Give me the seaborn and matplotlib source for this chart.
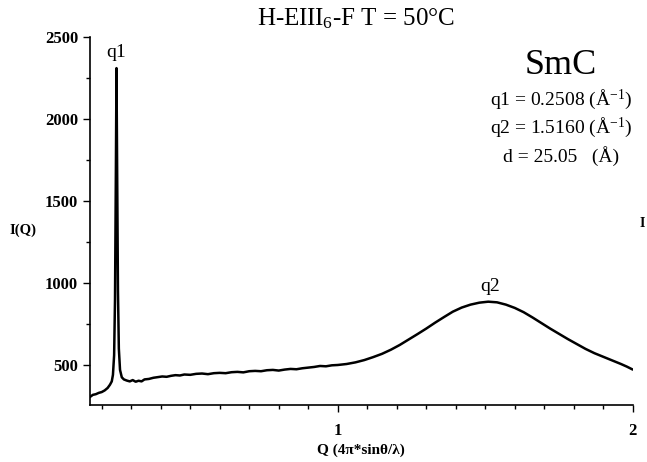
import numpy as np
import pandas as pd
import matplotlib
matplotlib.use('Agg')
import matplotlib.pyplot as plt
from matplotlib.ticker import MultipleLocator
import seaborn as sns

# scattering vector Q and intensity I(Q)
q_vals = [0.160, 0.170, 0.180, 0.190, 0.200, 0.210, 0.220, 0.228, 0.234, 0.238,
          0.242, 0.245, 0.248, 0.250, 0.252, 0.255, 0.258, 0.262, 0.268, 0.275,
          0.285, 0.295, 0.305, 0.315, 0.325, 0.335, 0.345, 0.360, 0.375, 0.390,
          0.405, 0.420, 0.435, 0.450, 0.465, 0.480, 0.500, 0.520, 0.540, 0.560,
          0.580, 0.600, 0.620, 0.640, 0.660, 0.680, 0.700, 0.720, 0.740, 0.760,
          0.780, 0.800, 0.820, 0.840, 0.860, 0.880, 0.900, 0.920, 0.940, 0.960,
          0.980, 1.000, 1.030, 1.060, 1.090, 1.120, 1.150, 1.180, 1.210, 1.240,
          1.270, 1.300, 1.330, 1.360, 1.390, 1.420, 1.450, 1.480, 1.510, 1.540,
          1.570, 1.600, 1.630, 1.660, 1.690, 1.720, 1.750, 1.780, 1.810, 1.840,
          1.870, 1.900, 1.930, 1.960, 1.980, 2.000]
i_vals = [305, 318, 322, 330, 335, 345, 360, 380, 400, 440,
          560, 900, 1700, 2310, 1750, 950, 600, 470, 425, 412,
          405, 400, 408, 398, 404, 400, 412, 415, 422, 426,
          430, 428, 434, 438, 436, 442, 440, 446, 448, 444,
          450, 452, 450, 456, 458, 455, 462, 464, 462, 468,
          470, 466, 472, 476, 474, 480, 484, 488, 494, 492,
          498, 500, 506, 516, 530, 548, 568, 593, 622, 655,
          688, 722, 758, 792, 825, 850, 868, 880, 886, 882,
          868, 848, 822, 790, 756, 722, 690, 658, 628, 598,
          572, 550, 528, 506, 490, 472]

peak_labels = ['q1', 'q2']
peak_pos = [0.250, 1.516]
peak_height = [2310, 886]

info_lines = ['q1 = 0.2508 (Å$^{-1}$)', 'q2 = 1.5160 (Å$^{-1}$)', 'd = 25.05   (Å)']

sns.set_style('ticks')
plt.rcParams['font.family'] = ['Liberation Serif', 'DejaVu Serif']
plt.rcParams['mathtext.fontset'] = 'custom'
plt.rcParams['mathtext.rm'] = 'Liberation Serif'
plt.rcParams['mathtext.it'] = 'Liberation Serif:italic'
plt.rcParams['mathtext.bf'] = 'Liberation Serif:bold'
for key in ['text.color', 'axes.labelcolor', 'xtick.color', 'ytick.color', 'axes.edgecolor']:
    plt.rcParams[key] = 'black'

df = pd.DataFrame({'Q': q_vals, 'I': i_vals})

fig = plt.figure(figsize=(6.47, 4.62), dpi=100)
ax = fig.add_axes([0.139, 0.123, 0.839, 0.797])
sns.lineplot(data=df, x='Q', y='I', ax=ax, color='black', linewidth=1.8,
             estimator=None, sort=False)

ax.set_xlim(0.16, 2.0)
ax.set_ylim(255, 2500)
ax.xaxis.set_major_locator(MultipleLocator(1))
ax.xaxis.set_minor_locator(MultipleLocator(0.1))
ax.yaxis.set_major_locator(MultipleLocator(500))
ax.yaxis.set_minor_locator(MultipleLocator(250))
ax.tick_params(which='major', length=5, width=1, labelsize=12)
ax.tick_params(which='minor', length=3, width=1)
ax.tick_params(axis='x', which='major', pad=8)
for lab in ax.get_xticklabels() + ax.get_yticklabels():
    lab.set_fontweight('bold')
sns.despine(ax=ax)
for sp in ['left', 'bottom']:
    ax.spines[sp].set_linewidth(1.2)

ax.set_xlabel('Q (4π*sinθ/λ)', fontsize=11, fontweight='bold', labelpad=3)
ax.set_ylabel('')
fig.text(0.036, 0.502, 'I(Q)', fontsize=10.5, fontweight='bold', ha='center', va='center')
fig.text(0.993, 0.517, 'I', fontsize=10, fontweight='bold', ha='center', va='center')

for lab, x, y in zip(peak_labels, peak_pos, peak_height):
    ax.annotate(lab, (x, y), xytext=(0, 5), textcoords='offset points',
                ha='center', va='bottom', fontsize=14)

fig.text(0.55, 0.96, 'H-EIII$_6$-F T = 50°C', fontsize=18, ha='center', va='center')
fig.text(0.866, 0.858, 'SmC', fontsize=26, ha='center', va='center')
for k, line in enumerate(info_lines):
    fig.text(0.867, 0.785 - k * 0.061, line, fontsize=14, ha='center', va='center')

fig.savefig('out.png', dpi=100)
